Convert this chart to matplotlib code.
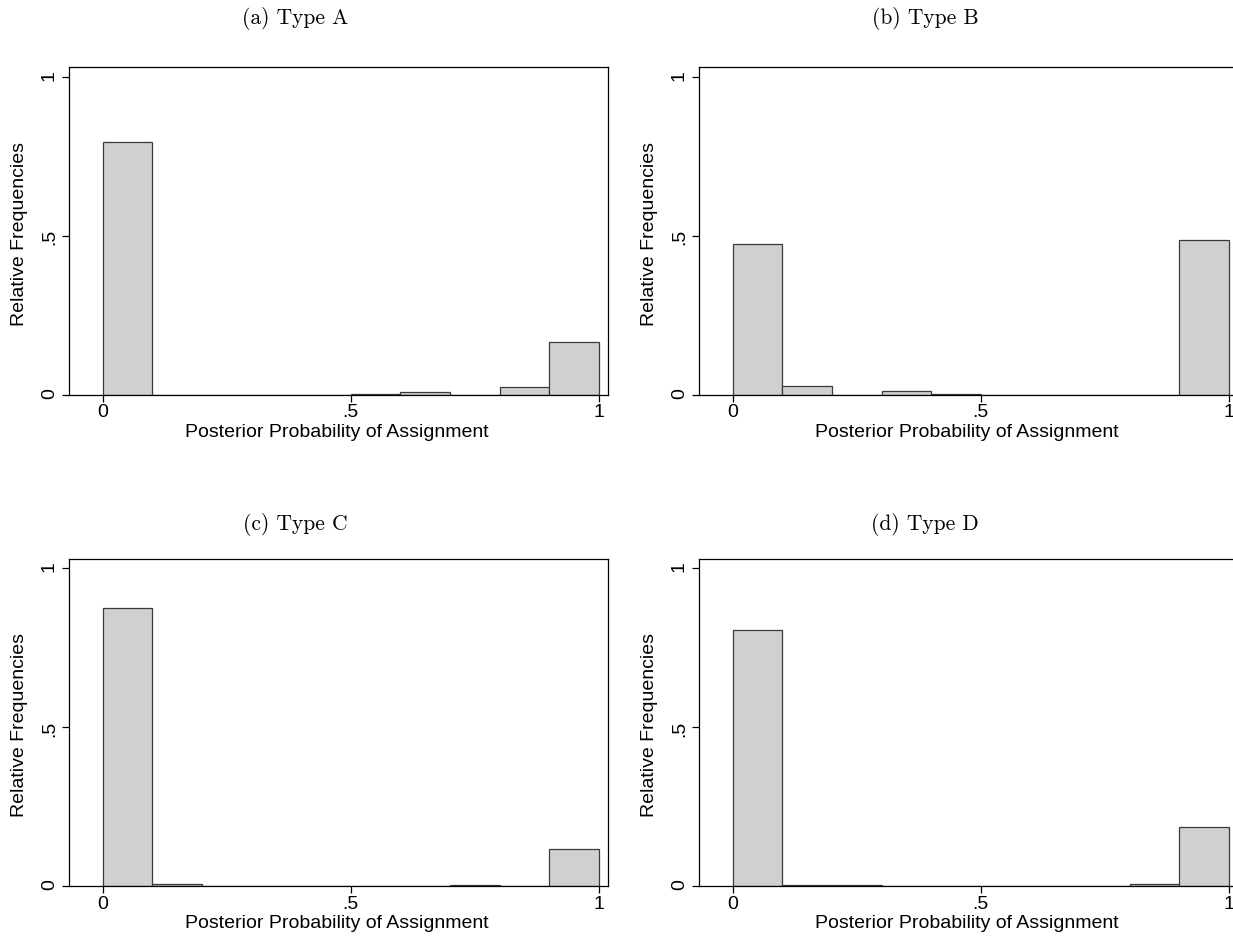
#!/usr/bin/env python3
# Four Stata-style histograms of posterior assignment probabilities, one per type.
import matplotlib

matplotlib.use("Agg")
import matplotlib.pyplot as plt

# Bin left edges (width 0.1) and relative frequencies.
bin_edges = [0.0, 0.1, 0.2, 0.3, 0.4, 0.5, 0.6, 0.7, 0.8, 0.9]
bin_width = 0.1

freq_a = [0.795, 0.0, 0.0, 0.0, 0.0, 0.003, 0.009, 0.0, 0.025, 0.166]
freq_b = [0.474, 0.026, 0.0, 0.011, 0.002, 0.0, 0.0, 0.0, 0.0, 0.486]
freq_c = [0.874, 0.005, 0.0, 0.0, 0.0, 0.0, 0.0, 0.002, 0.0, 0.116]
freq_d = [0.805, 0.002, 0.002, 0.0, 0.0, 0.0, 0.0, 0.0, 0.006, 0.186]

titles = ["(a) Type A", "(b) Type B", "(c) Type C", "(d) Type D"]
panels = [freq_a, freq_b, freq_c, freq_d]

x_ticks = [0, 0.5, 1]
x_tick_labels = ["0", ".5", "1"]
y_ticks = [0, 0.5, 1]
y_tick_labels = ["0", ".5", "1"]

xlabel = "Posterior Probability of Assignment"
ylabel = "Relative Frequencies"

W, H = 1233, 941
SANS = ["Liberation Sans", "DejaVu Sans"]
SERIF = ["cmr10", "DejaVu Serif"]

plt.rcParams["axes.formatter.use_mathtext"] = True

fig = plt.figure(figsize=(W / 100, H / 100), dpi=100)

# pixel geometry of the panel frames (left, top), frame size and caption heights
ax_w, ax_h = 539.3, 327.4
origins = [(69, 67.3), (699, 67.3), (69, 558.6), (699, 558.6)]
caption_y = [19, 19, 524, 524]

for (px, py), cy, freq, title in zip(origins, caption_y, panels, titles):
    ax = fig.add_axes([px / W, 1 - (py + ax_h) / H, ax_w / W, ax_h / H])
    ax.bar(
        bin_edges,
        freq,
        width=bin_width,
        align="edge",
        color="#d0d0d0",
        edgecolor="#3a3a3a",
        linewidth=0.9,
        zorder=2,
    )
    ax.set_xlim(-0.0679, 1.0187)
    ax.set_ylim(0, 1.0296)
    ax.set_xticks(x_ticks, x_tick_labels, fontfamily=SANS, fontsize=14)
    ax.set_yticks(y_ticks, y_tick_labels, fontfamily=SANS, fontsize=14)
    ax.tick_params(axis="y", labelrotation=90, length=5, width=0.9, pad=3)
    ax.tick_params(axis="x", length=5, width=0.9, pad=2)
    for s in ax.spines.values():
        s.set_linewidth(0.9)
        s.set_color("black")

    # axis titles placed relative to the frame, Stata-like
    fig.text(
        (px + ax_w / 2 - 1.5) / W,
        1 - (py + ax_h + 38) / H,
        xlabel,
        ha="center",
        va="center",
        fontsize=14,
        fontfamily=SANS,
    )
    fig.text(
        (px - 49) / W,
        1 - (py + ax_h / 2 + 3) / H,
        ylabel,
        rotation=90,
        ha="center",
        va="center",
        fontsize=14,
        fontfamily=SANS,
    )
    fig.text(
        (px + 226) / W,
        1 - cy / H,
        title,
        ha="center",
        va="center",
        fontsize=15.5,
        fontfamily=SERIF,
    )

fig.savefig("out.png", dpi=100)
plt.close(fig)
